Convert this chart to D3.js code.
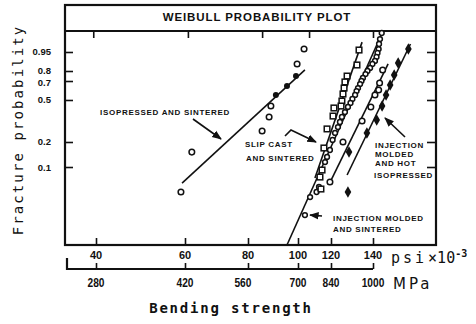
<!DOCTYPE html>
<html>
<head>
<meta charset="utf-8">
<script src="https://cdn.jsdelivr.net/npm/d3@7"></script>
<style>
body { margin: 0; background: #fff; }
</style>
</head>
<body>
<svg id="chart" width="476" height="324"></svg>
<script>
// axis ticks
const psiTicks = [40, 60, 80, 100, 120, 140];
const mpaLabels = ["280", "420", "560", "700", "840", "1000"];
const probTicks = [0.1, 0.2, 0.5, 0.7, 0.8, 0.95];
const probLabels = ["0.1", "0.2", "0.5", "0.7", "0.8", "0.95"];
const topTicks = [39.5, 60.8, 85.2, 106.3, 140];

// isopressed and sintered
const isoPsi = [103.4, 99.6, 88.6, 87.9, 85.2, 61.9, 58.9];
const isoF = [0.963, 0.868, 0.445, 0.355, 0.259, 0.152, 0.0486];
const isoDotPsi = [99.1, 95.2, 90.6];
const isoDotF = [0.751, 0.647, 0.552];
const isoFit = [[59.2, 0.063], [103.9, 0.811]];

// slip cast and sintered (squares)
const slipPsi = [133.0, 132.0, 127.3, 126.3, 125.9, 125.4, 124.9, 124.5, 121.3, 120.9, 117.4, 115.4, 114.2, 112.9, 113.5];
const slipF = [0.959, 0.859, 0.751, 0.690, 0.625, 0.562, 0.490, 0.445, 0.428, 0.362, 0.272, 0.170, 0.0918, 0.075, 0.053];
const slipFit = [[134.5, 0.984], [109.8, 0.0729]];

// injection molded and sintered
const imsPsi = [144.5, 143.6, 143.1, 142.9, 142.3, 141.8, 141.0, 139.7, 138.5, 137.2, 136.2, 134.9, 134.2, 133.5, 132.5, 131.8, 131.1, 129.8, 128.9, 127.7, 126.3, 124.9, 124.0, 123.1, 121.8, 120.7, 119.3, 117.4, 116.1, 112.3, 110.8, 106.9, 103.9];
const imsF = [0.9962, 0.9897, 0.9795, 0.963, 0.945, 0.922, 0.893, 0.868, 0.831, 0.800, 0.771, 0.731, 0.700, 0.668, 0.625, 0.593, 0.552, 0.510, 0.472, 0.437, 0.394, 0.355, 0.318, 0.284, 0.248, 0.210, 0.161, 0.133, 0.115, 0.0562, 0.0486, 0.0419, 0.0246];
const imsFit = [[145.2, 0.9974], [95.2, 0.0101]];

// second open-circle group
const midPsi = [145.0, 143.4, 142.9, 141.0, 138.9, 134.5, 125.4, 119.3];
const midF = [0.811, 0.679, 0.604, 0.552, 0.437, 0.325, 0.200, 0.065];
const midFit = [[147.9, 0.868], [120.0, 0.068]];

// injection molded and hot isopressed (filled diamonds)
const hipPsi = [159.2, 153.4, 151.2, 149.0, 146.8, 144.7, 141.9, 136.9, 128.2, 127.7];
const hipF = [0.963, 0.876, 0.761, 0.658, 0.552, 0.445, 0.332, 0.248, 0.152, 0.0486];
const hipFit = [[160.4, 0.9795], [127.3, 0.0796]];

const svg = d3.select("#chart");
const plotLeft = 65, plotRight = 436, plotTop = 5, titleBottom = 31, plotBottom = 245;

const x = d3.scaleLog()
  .domain([34.7, 40, 60, 80, 100, 120, 140, 176])
  .range([plotLeft, 96, 185, 248, 298, 331, 373, plotRight]);
const weib = p => Math.log(-Math.log(1 - p));
const yw = d3.scaleLinear()
  .domain([-4.59, -2.25, -1.5, -0.367, 0.186, 0.476, 1.097, 1.783])
  .range([plotBottom, 167, 142, 100, 81, 71, 52, titleBottom]);
const y = p => yw(weib(p));

const ink = "#111";
const boldFont = "'Liberation Sans', Arial, sans-serif";
const monoFont = "'DejaVu Sans Mono', monospace";

// frame and title box
svg.append("rect")
  .attr("x", plotLeft).attr("y", plotTop)
  .attr("width", plotRight - plotLeft).attr("height", plotBottom - plotTop)
  .attr("fill", "none").attr("stroke", ink).attr("stroke-width", 2.2);
svg.append("line")
  .attr("x1", plotLeft).attr("x2", plotRight)
  .attr("y1", titleBottom).attr("y2", titleBottom)
  .attr("stroke", ink).attr("stroke-width", 2.2);
svg.append("text")
  .attr("x", 257).attr("y", 21)
  .attr("text-anchor", "middle")
  .attr("font-family", boldFont).attr("font-weight", 900)
  .attr("font-size", 11.5).attr("letter-spacing", 0.9)
  .attr("fill", ink)
  .text("WEIBULL PROBABILITY PLOT");

// bottom psi axis
const psiAxis = d3.axisTop(x).tickValues(psiTicks).tickSize(7).tickFormat("");
svg.append("g").attr("transform", `translate(0,${plotBottom})`).call(psiAxis)
  .call(g => g.select(".domain").remove())
  .call(g => g.selectAll("line").attr("stroke", ink).attr("stroke-width", 1.6));
svg.append("g").selectAll("text").data(psiTicks).join("text")
  .attr("x", d => x(d)).attr("y", plotBottom + 14)
  .attr("text-anchor", "middle")
  .attr("font-family", boldFont).attr("font-weight", "bold").attr("font-size", 11)
  .attr("fill", ink)
  .text(d => d);

// top ticks
const topAxis = d3.axisBottom(x).tickValues(topTicks).tickSize(7).tickFormat("");
svg.append("g").attr("transform", `translate(0,${titleBottom})`).call(topAxis)
  .call(g => g.select(".domain").remove())
  .call(g => g.selectAll("line").attr("stroke", ink).attr("stroke-width", 1.6));

// MPa axis
const mpaY = 269;
svg.append("path")
  .attr("d", `M${plotLeft + 2},${mpaY - 11}V${mpaY}H${x(140)}`)
  .attr("fill", "none").attr("stroke", ink).attr("stroke-width", 2.2);
const mpaAxis = d3.axisTop(x).tickValues(psiTicks).tickSize(6).tickFormat("");
svg.append("g").attr("transform", `translate(0,${mpaY})`).call(mpaAxis)
  .call(g => g.select(".domain").remove())
  .call(g => g.selectAll("line").attr("stroke", ink).attr("stroke-width", 1.6));
svg.append("g").selectAll("text").data(psiTicks).join("text")
  .attr("x", (d, i) => x(d) + (i === 2 ? -6 : 0)).attr("y", mpaY + 18)
  .attr("text-anchor", "middle")
  .attr("font-family", boldFont).attr("font-weight", "bold").attr("font-size", 12)
  .attr("transform", d => `translate(${x(d)},0) scale(0.85,1) translate(${-x(d)},0)`)
  .attr("fill", ink)
  .text((d, i) => mpaLabels[i]);

// unit labels
const psiLab = svg.append("text")
  .attr("x", 391).attr("y", 263)
  .attr("font-family", monoFont).attr("font-size", 15).attr("fill", ink);
psiLab.append("tspan").attr("letter-spacing", 3).text("psi");
psiLab.append("tspan").attr("dx", 1).attr("font-size", 15).text("×10");
psiLab.append("tspan").attr("dy", -6).attr("font-size", 10).attr("font-weight", "bold").text("-3");
svg.append("text")
  .attr("x", 393).attr("y", 289)
  .attr("font-family", "'DejaVu Sans', sans-serif").attr("font-size", 15)
  .attr("letter-spacing", 3).attr("fill", ink)
  .text("MPa");
svg.append("text")
  .attr("x", 231).attr("y", 313)
  .attr("text-anchor", "middle")
  .attr("font-family", monoFont).attr("font-weight", "bold").attr("font-size", 14)
  .attr("letter-spacing", 1.8).attr("fill", ink)
  .text("Bending strength");

// probability axes
const probLeft = d3.axisRight(yw).tickValues(probTicks.map(weib)).tickSize(9).tickFormat("");
svg.append("g").attr("transform", `translate(${plotLeft - 1},0)`).call(probLeft)
  .call(g => g.select(".domain").remove())
  .call(g => g.selectAll("line").attr("stroke", ink).attr("stroke-width", 1.6));
const probRight = d3.axisLeft(yw).tickValues(probTicks.map(weib)).tickSize(9).tickFormat("");
svg.append("g").attr("transform", `translate(${plotRight},0)`).call(probRight)
  .call(g => g.select(".domain").remove())
  .call(g => g.selectAll("line").attr("stroke", ink).attr("stroke-width", 1.6));
svg.append("g").selectAll("text").data(probTicks).join("text")
  .attr("x", 51).attr("y", (d, i) => y(d) + 3.5 + (i === 3 ? 1 : i === 4 ? -1 : 0))
  .attr("text-anchor", "end")
  .attr("font-family", boldFont).attr("font-weight", "bold").attr("font-size", 9.5)
  .attr("fill", ink)
  .text((d, i) => probLabels[i]);
svg.append("text")
  .attr("transform", "translate(23,130) rotate(-90)")
  .attr("text-anchor", "middle")
  .attr("font-family", monoFont).attr("font-size", 14)
  .attr("letter-spacing", 2.1).attr("fill", ink)
  .text("Fracture probability");

// fitted lines
const line = d3.line().x(d => x(d[0])).y(d => y(d[1]));
svg.append("g").selectAll("path").data([isoFit, slipFit, imsFit, midFit, hipFit]).join("path")
  .attr("d", line)
  .attr("fill", "none").attr("stroke", ink).attr("stroke-width", 1.6);

// markers
function openCircles(ps, fs, r) {
  svg.append("g").selectAll("circle").data(ps).join("circle")
    .attr("cx", d => x(d)).attr("cy", (d, i) => y(fs[i]))
    .attr("r", r).attr("fill", "#fff").attr("stroke", ink).attr("stroke-width", 1.5);
}
openCircles(isoPsi, isoF, 2.8);
openCircles(imsPsi, imsF, 2.4);
openCircles(midPsi, midF, 2.8);

svg.append("g").selectAll("circle").data(isoDotPsi).join("circle")
  .attr("cx", d => x(d)).attr("cy", (d, i) => y(isoDotF[i]))
  .attr("r", 3).attr("fill", ink);

svg.append("g").selectAll("rect").data(slipPsi).join("rect")
  .attr("x", d => x(d) - 2.8).attr("y", (d, i) => y(slipF[i]) - 2.8)
  .attr("width", 5.6).attr("height", 5.6)
  .attr("fill", "#fff").attr("stroke", ink).attr("stroke-width", 1.5);

const diamond = d3.symbol().type(d3.symbolDiamond).size(38);
svg.append("g").selectAll("path").data(hipPsi).join("path")
  .attr("transform", (d, i) => `translate(${x(d)},${y(hipF[i])})`)
  .attr("d", diamond).attr("fill", ink);

// annotations
const notes = [
  { t: "ISOPRESSED AND SINTERED", x: 100, y: 115 },
  { t: "SLIP CAST", x: 245, y: 147 },
  { t: "AND SINTERED", x: 246, y: 161 },
  { t: "INJECTION", x: 375, y: 148 },
  { t: "MOLDED", x: 375, y: 157 },
  { t: "AND HOT", x: 375, y: 166 },
  { t: "ISOPRESSED", x: 374, y: 178 },
  { t: "INJECTION MOLDED", x: 333, y: 221 },
  { t: "AND SINTERED", x: 333, y: 232 }
];
svg.append("g").selectAll("text").data(notes).join("text")
  .attr("x", d => d.x).attr("y", d => d.y)
  .attr("font-family", boldFont).attr("font-weight", 900).attr("font-size", 8)
  .attr("letter-spacing", 0.7).attr("fill", ink)
  .text(d => d.t);

svg.append("defs").append("marker")
  .attr("id", "head").attr("viewBox", "0 0 10 10")
  .attr("refX", 9).attr("refY", 5)
  .attr("markerWidth", 6).attr("markerHeight", 6)
  .attr("orient", "auto")
  .append("path").attr("d", "M0,1L10,5L0,9Z").attr("fill", ink);
const arrows = [
  "M193,119L221,139",
  "M285,136L291,130L316,142",
  "M405,137L385,118",
  "M322,216L310,215"
];
svg.append("g").selectAll("path").data(arrows).join("path")
  .attr("d", d => d)
  .attr("fill", "none").attr("stroke", ink).attr("stroke-width", 1.6)
  .attr("marker-end", "url(#head)");
</script>
</body>
</html>
